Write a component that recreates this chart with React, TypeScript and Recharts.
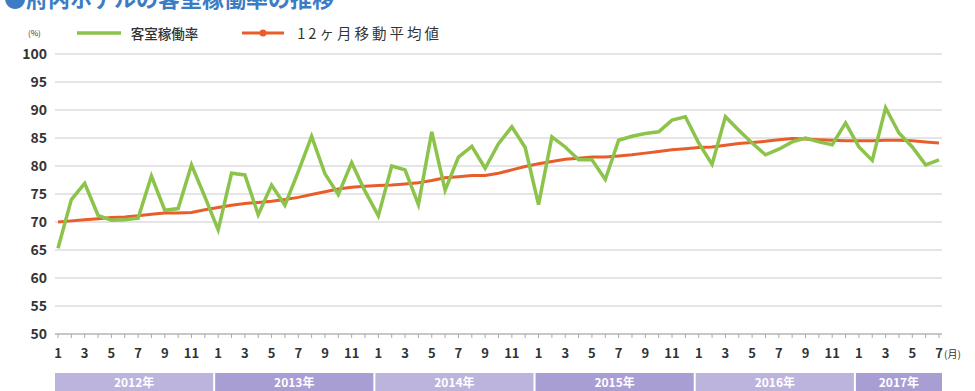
import React from 'react';
import { LineChart, Line, XAxis, YAxis, CartesianGrid } from 'recharts';

// 2012/1 .. 2017/7
const years = [2012, 2013, 2014, 2015, 2016, 2017];
const monthsPerYear = [12, 12, 12, 12, 12, 7];

// 客室稼働率 (%)
const occupancy = [
  65.3, 74.0, 76.9, 71.2, 70.3, 70.4, 70.7, 78.2, 72.1, 72.4, 80.2, 74.5,
  68.6, 78.7, 78.4, 71.3, 76.6, 73.0, 79.0, 85.3, 78.6, 74.9, 80.6, 75.5,
  71.1, 80.0, 79.3, 73.1, 86.1, 75.7, 81.6, 83.5, 79.6, 84.0, 87.0, 83.3,
  73.1, 85.2, 83.4, 81.1, 81.1, 77.6, 84.6, 85.3, 85.8, 86.1, 88.2, 88.8,
  84.1, 80.3, 88.8, 86.4, 84.1, 82.0, 83.0, 84.3, 85.0, 84.3, 83.8, 87.7,
  83.4, 81.0, 90.4, 85.9, 83.4, 80.2, 81.1,
];

// 12ヶ月移動平均値 (%)
const movingAvg = [
  70.0, 70.2, 70.4, 70.6, 70.8, 70.9, 71.1, 71.4, 71.6, 71.6, 71.7, 72.2,
  72.6, 73.0, 73.3, 73.5, 73.7, 74.0, 74.4, 74.9, 75.4, 75.9, 76.2, 76.4,
  76.5, 76.6, 76.8, 77.0, 77.4, 77.9, 78.1, 78.3, 78.3, 78.7, 79.3, 79.9,
  80.4, 80.8, 81.2, 81.4, 81.6, 81.6, 81.8, 82.0, 82.3, 82.6, 82.9, 83.1,
  83.3, 83.4, 83.7, 84.0, 84.2, 84.4, 84.7, 84.9, 84.8, 84.7, 84.6, 84.5,
  84.5, 84.5, 84.6, 84.6, 84.5, 84.3, 84.1,
];

const yTicks = [50, 55, 60, 65, 70, 75, 80, 85, 90, 95, 100];

const rows: { idx: number; year: number; month: number; occ: number; avg: number }[] = [];
years.forEach((yr, yi) => {
  for (let m = 1; m <= monthsPerYear[yi]; m++) {
    const idx = rows.length;
    rows.push({ idx, year: yr, month: m, occ: occupancy[idx], avg: movingAvg[idx] });
  }
});

const W = 975;
const H = 391;
const PLOT_LEFT = 55;
const PLOT_RIGHT = 942;
const PAD = 3;
const STEP = (PLOT_RIGHT - PLOT_LEFT - PAD * 2) / (rows.length - 1);

const GREEN = '#8cc34b';
const ORANGE = '#e85d2a';
const FONT = '"Noto Sans CJK JP", "Noto Sans", sans-serif';

function MonthTick(props: any) {
  const { x, y, payload } = props;
  const row = rows[payload.value];
  if (!row) return null;
  const yi = years.indexOf(row.year);
  const last = rows.length - 1;
  let band = null;
  if (row.month === 1) {
    const x0 = x - 3;
    const x1 = Math.min(x + 12 * STEP - 5, x + (last - row.idx) * STEP + 3);
    band = (
      <g>
        <rect x={x0} y={y + 33} width={x1 - x0} height={24}
          fill={yi % 2 === 0 ? '#bdb4de' : '#a99ed3'} />
        <text x={(x0 + x1) / 2} y={y + 47} textAnchor="middle" fill="#fff"
          fontSize={12} fontWeight={700} fontFamily={FONT}>{row.year}年</text>
      </g>
    );
  }
  return (
    <g>
      {band}
      {row.month % 2 === 1 && (
        <text x={x} y={y + 18} textAnchor="middle" fill="#333" fontSize={13}
          fontWeight={700} fontFamily={FONT}>{row.month}</text>
      )}
      {row.idx === last && (
        <text x={x + 5} y={y + 18} fill="#333" fontSize={10} fontFamily={FONT}>(月)</text>
      )}
    </g>
  );
}

function LegendBox() {
  return (
    <div style={{ position: 'absolute', left: 28, top: 22, display: 'flex', alignItems: 'center', fontFamily: FONT, fontSize: 13.5, color: '#333', whiteSpace: 'nowrap' }}>
      <span style={{ fontSize: 8, marginRight: 36 }}>(%)</span>
      <svg width={44} height={10} style={{ marginRight: 10 }}>
        <line x1={0} y1={5} x2={44} y2={5} stroke={GREEN} strokeWidth={3.5} />
      </svg>
      <span style={{ marginRight: 44, fontWeight: 500 }}>客室稼働率</span>
      <svg width={42} height={10} style={{ marginRight: 13 }}>
        <line x1={0} y1={5} x2={42} y2={5} stroke={ORANGE} strokeWidth={3} />
        <circle cx={21} cy={5} r={3.5} fill={ORANGE} />
      </svg>
      <span style={{ fontSize: 14.5, letterSpacing: 3 }}>12ヶ月移動平均値</span>
    </div>
  );
}

export default function App() {
  return (
    <div style={{ position: 'absolute', left: 0, top: 0, width: W, height: H, background: '#fff', overflow: 'hidden' }}>
      <div style={{ position: 'absolute', left: 4, top: -19, fontFamily: FONT, fontSize: 22, fontWeight: 700, color: '#3b7cc4', whiteSpace: 'nowrap' }}>
        ●府内ホテルの客室稼働率の推移
      </div>
      <LegendBox />
      <LineChart width={W} height={H} data={rows}
        margin={{ top: 54, right: W - PLOT_RIGHT, bottom: 37, left: 0 }}>
        <CartesianGrid vertical={false} stroke="#dcdcdc" strokeWidth={1.5} />
        <XAxis dataKey="idx" type="category" interval={0} height={20}
          padding={{ left: PAD, right: PAD }}
          axisLine={{ stroke: '#aaa' }} tickLine={{ stroke: '#aaa' }} tickSize={4}
          tick={(p: any) => <MonthTick {...p} />} />
        <YAxis domain={[50, 100]} ticks={yTicks} width={PLOT_LEFT} axisLine={false} tickLine={false}
          interval={0} tick={{ fill: '#333', fontSize: 14, fontWeight: 700, fontFamily: FONT }} />
        <Line dataKey="avg" stroke={ORANGE} strokeWidth={3} dot={false} isAnimationActive={false} />
        <Line dataKey="occ" stroke={GREEN} strokeWidth={3.5} dot={false} isAnimationActive={false} />
      </LineChart>
    </div>
  );
}
